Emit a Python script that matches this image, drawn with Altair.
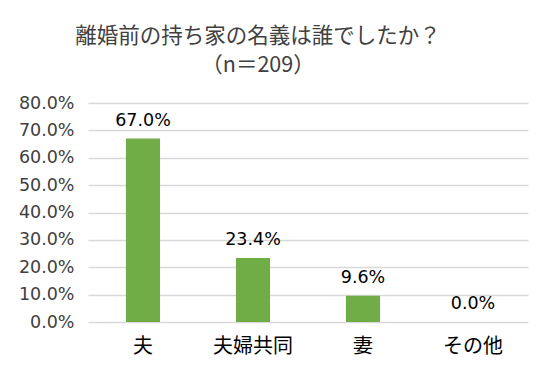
import altair as alt
import pandas as pd

categories = ["夫", "夫婦共同", "妻", "その他"]
values = [67.0, 23.4, 9.6, 0.0]
title_lines = ["離婚前の持ち家の名義は誰でしたか？", "（n＝209）"]
y_ticks = [0, 10, 20, 30, 40, 50, 60, 70, 80]

df = pd.DataFrame({"cat": categories, "val": values})
df["label"] = [f"{v:.1f}%" for v in values]

JP = "Noto Sans CJK JP"
NUM = "DejaVu Sans"
TXT = "#404040"

base = alt.Chart(df).encode(
    x=alt.X("cat:N", sort=categories, title=None,
            scale=alt.Scale(paddingInner=0.69, paddingOuter=0.345),
            axis=alt.Axis(labelAngle=0, labelFont=JP, labelFontSize=20, labelColor="#000000",
                          labelPadding=14, domain=False, ticks=False, grid=False)),
    y=alt.Y("val:Q", title=None,
            scale=alt.Scale(domain=[0, 80]),
            axis=alt.Axis(values=y_ticks, labelOverlap=False, labelBound=False,
                          labelExpr="format(datum.value, '.1f') + '%'",
                          labelFont=NUM, labelFontSize=17.5, labelColor=TXT,
                          labelPadding=14, domain=False, ticks=False,
                          gridColor="#d9d9d9", gridWidth=1.5)),
)

bars = base.mark_bar(color="#70ad47")

text = base.mark_text(font=NUM, fontSize=17.5, color="#000000",
                      baseline="bottom", dy=-9).encode(
    text="label:N",
)

chart = (bars + text).properties(
    width=440, height=219,
    autosize=alt.AutoSizeParams(type="none"),
    padding={"left": 80, "top": 95, "right": 17, "bottom": 47},
    title=alt.TitleParams(title_lines, font=JP, fontSize=21.5, fontWeight="normal",
                          color=TXT, anchor="middle", dx=-50, offset=18,
                          lineHeight=29),
).configure_view(stroke=None)

chart.save("out.html", embed_options={"renderer": "svg", "actions": False})
